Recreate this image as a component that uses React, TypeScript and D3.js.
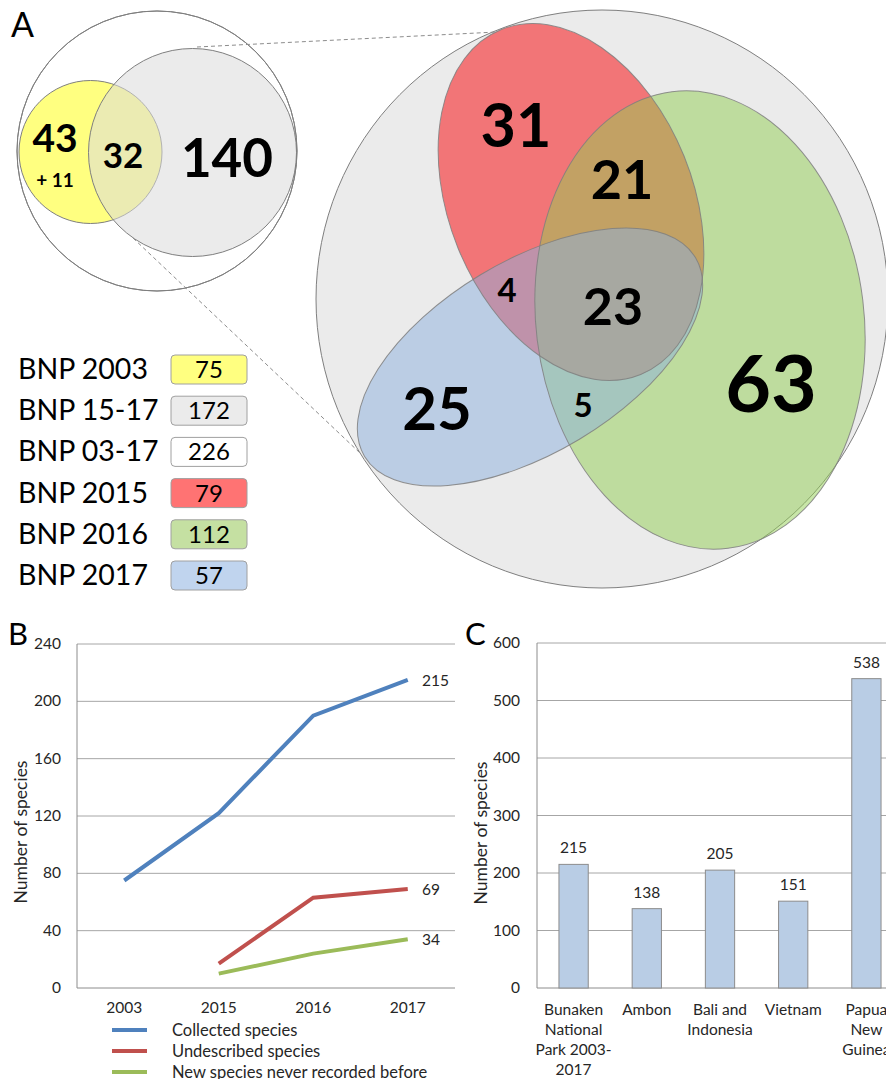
import React from 'react';
import * as d3 from 'd3';

const FONT = 'Lato, "Open Sans", sans-serif';

// panel A: small venn (2003 vs 2015-17)
const smallVennCounts = ['43', '32', '140'];
const smallVennExtra = '+ 11';

// panel A: big venn (2015, 2016, 2017) region counts
// order: red only, red+green, red+blue, all three, green+blue, blue only, green only
const bigVennCounts = ['31', '21', '4', '23', '5', '25', '63'];

// panel A legend
const legendLabels = ['BNP 2003', 'BNP 15-17', 'BNP 03-17', 'BNP 2015', 'BNP 2016', 'BNP 2017'];
const legendValues = [75, 172, 226, 79, 112, 57];

// panel B
const years = ['2003', '2015', '2016', '2017'];
const collected = [75, 122, 190, 215];
const undescribed = [null, 17, 63, 69];
const neverRecorded = [null, 10, 24, 34];
const seriesNames = ['Collected species', 'Undescribed species', 'New species never recorded before'];
const yTicksB = [0, 40, 80, 120, 160, 200, 240];

// panel C
const places = [
  ['Bunaken', 'National', 'Park 2003-', '2017'],
  ['Ambon'],
  ['Bali and', 'Indonesia'],
  ['Vietnam'],
  ['Papua', 'New', 'Guinea'],
];
const placeValues = [215, 138, 205, 151, 538];
const yTicksC = [0, 100, 200, 300, 400, 500, 600];

export default function App() {
  const legendColors = ['#FFFF80', '#EBEBEB', '#FFFFFF', '#FF7373', '#C5E0A2', '#C0D4EE'];
  // x, baseline, font size
  const vennPos = [
    [516, 147, 61], [622, 199, 54], [507, 302, 33], [613, 325, 52],
    [583, 417, 33], [437, 430, 60], [771, 412, 79],
  ];

  // ---- B
  const bx = d3.scaleBand<string>().domain(years).range([77, 455]);
  const by = d3.scaleLinear().domain([0, 240]).range([988, 644]);
  const cx = (y: string) => (bx(y) as number) + bx.bandwidth() / 2;
  const lineB = d3.line<number | null>()
    .defined(d => d != null)
    .x((_, i) => cx(years[i]))
    .y(d => by(d as number));
  const series = [collected, undescribed, neverRecorded];
  const seriesColors = ['#4F81BD', '#C0504D', '#9BBB59'];

  // ---- C
  const cxs = d3.scaleBand<number>().domain(d3.range(places.length)).range([537, 903]);
  const cy = d3.scaleLinear().domain([0, 600]).range([988, 643]);
  const barW = cxs.bandwidth() * 0.4;

  const stroke = '#7F7F7F';
  const txt = '#262626';

  return (
    <svg width={886} height={1079} style={{ position: 'absolute', left: 0, top: 0, background: '#fff' }} fontFamily={FONT}>
      {/* ===== Panel A ===== */}
      <text x={11} y={37} fontSize={34} fill="#000">A</text>

      {/* big venn */}
      <ellipse cx={602} cy={299} rx={286} ry={289} fill="#EBEBEB" stroke={stroke} strokeWidth={1} />
      <ellipse cx={571} cy={202} rx={122} ry={186} transform="rotate(-22 571 202)" fill="#F27577" />
      <ellipse cx={700} cy={320} rx={164} ry={230} transform="rotate(-7 700 320)" fill="#91CD51" fillOpacity={0.5} />
      <ellipse cx={530} cy={357} rx={193} ry={96} transform="rotate(-31 530 357)" fill="#8BAFDD" fillOpacity={0.5} />
      <ellipse cx={571} cy={202} rx={122} ry={186} transform="rotate(-22 571 202)" fill="none" stroke={stroke} strokeOpacity={0.85} />
      <ellipse cx={700} cy={320} rx={164} ry={230} transform="rotate(-7 700 320)" fill="none" stroke={stroke} strokeOpacity={0.85} />
      <ellipse cx={530} cy={357} rx={193} ry={96} transform="rotate(-31 530 357)" fill="none" stroke={stroke} strokeOpacity={0.85} />

      {/* small venn */}
      <circle cx={157} cy={151} r={140} fill="#fff" stroke={stroke} />
      <circle cx={90.5} cy={152} r={71.5} fill="#FFFF80" stroke={stroke} />
      <circle cx={192.5} cy={152.5} r={104} fill="#DBDBDB" fillOpacity={0.55} stroke={stroke} />
      <circle cx={157} cy={151} r={140} fill="none" stroke={stroke} />

      {/* zoom lines */}
      <line x1={197} y1={47} x2={497} y2={32} stroke="#8C8C8C" strokeDasharray="4,3" />
      <line x1={133} y1={238} x2={360} y2={453} stroke="#8C8C8C" strokeDasharray="4,3" />

      {/* small venn numbers */}
      <text x={55} y={152} fontSize={39} fontWeight="bold" textAnchor="middle">{smallVennCounts[0]}</text>
      <text x={55} y={187} fontSize={19} fontWeight="bold" textAnchor="middle">{smallVennExtra}</text>
      <text x={123} y={168} fontSize={35} fontWeight="bold" textAnchor="middle">{smallVennCounts[1]}</text>
      <text x={227} y={177} fontSize={53} fontWeight="bold" textAnchor="middle">{smallVennCounts[2]}</text>

      {/* big venn numbers */}
      {bigVennCounts.map((c, i) => (
        <text key={i} x={vennPos[i][0]} y={vennPos[i][1]} fontSize={vennPos[i][2]}
          fontWeight="bold" textAnchor="middle">{c}</text>
      ))}

      {/* legend */}
      {legendLabels.map((l, i) => {
        const y0 = 355 + i * 41.2;
        return (
          <g key={l}>
            <text x={18} y={y0 + 24} fontSize={28.5} fill="#000">{l}</text>
            <rect x={171} y={y0} width={76} height={29} rx={4} fill={legendColors[i]} stroke="#A0A0A0" />
            <text x={209} y={y0 + 23} fontSize={24} textAnchor="middle" fill="#000">{legendValues[i]}</text>
          </g>
        );
      })}

      {/* ===== Panel B ===== */}
      <text x={8} y={645} fontSize={31} fill="#000">B</text>
      {yTicksB.map(t => (
        <g key={t}>
          <line x1={77} x2={455} y1={by(t)} y2={by(t)} stroke={t === 0 ? '#8C8C8C' : '#A6A6A6'} />
          <text x={61} y={by(t) + 5} fontSize={15.5} textAnchor="end" fill={txt}>{t}</text>
        </g>
      ))}
      <line x1={77} x2={77} y1={644} y2={988} stroke="#8C8C8C" />
      {years.map(y => (
        <text key={y} x={cx(y)} y={1013} fontSize={15.5} textAnchor="middle" fill={txt}>{y}</text>
      ))}
      <text transform="translate(27 832) rotate(-90)" fontSize={17.5} textAnchor="middle" fill={txt}>Number of species</text>
      {series.map((s, i) => (
        <path key={i} d={lineB(s) as string} fill="none" stroke={seriesColors[i]} strokeWidth={4} />
      ))}
      {series.map((s, i) => (
        <text key={i} x={422} y={by(s[s.length - 1] as number) + 6} fontSize={15.5} fill={txt}>{s[s.length - 1]}</text>
      ))}
      {seriesNames.map((n, i) => (
        <g key={n}>
          <line x1={112} x2={147} y1={1030 + i * 21} y2={1030 + i * 21} stroke={seriesColors[i]} strokeWidth={4} />
          <text x={172} y={1036 + i * 21} fontSize={16.5} fill={txt}>{n}</text>
        </g>
      ))}

      {/* ===== Panel C ===== */}
      <text x={465} y={645} fontSize={31} fill="#000">C</text>
      {yTicksC.map(t => (
        <g key={t}>
          <line x1={537} x2={903} y1={cy(t)} y2={cy(t)} stroke={t === 0 ? '#8C8C8C' : '#A6A6A6'} />
          <text x={520} y={cy(t) + 5} fontSize={15.5} textAnchor="end" fill={txt}>{t}</text>
        </g>
      ))}
      <line x1={537} x2={537} y1={643} y2={988} stroke="#8C8C8C" />
      <text transform="translate(487 833) rotate(-90)" fontSize={17.5} textAnchor="middle" fill={txt}>Number of species</text>
      {placeValues.map((v, i) => {
        const mid = (cxs(i) as number) + cxs.bandwidth() / 2;
        return (
          <g key={i}>
            <rect x={mid - barW / 2} y={cy(v)} width={barW} height={cy(0) - cy(v)} fill="#B9CDE5" stroke="#8C8C8C" />
            <text x={mid} y={cy(v) - 11} fontSize={15.5} textAnchor="middle" fill={txt}>{v}</text>
            {places[i].map((ln, j) => (
              <text key={j} x={mid} y={1015 + j * 20} fontSize={15.5} textAnchor="middle" fill={txt}>{ln}</text>
            ))}
          </g>
        );
      })}
    </svg>
  );
}
